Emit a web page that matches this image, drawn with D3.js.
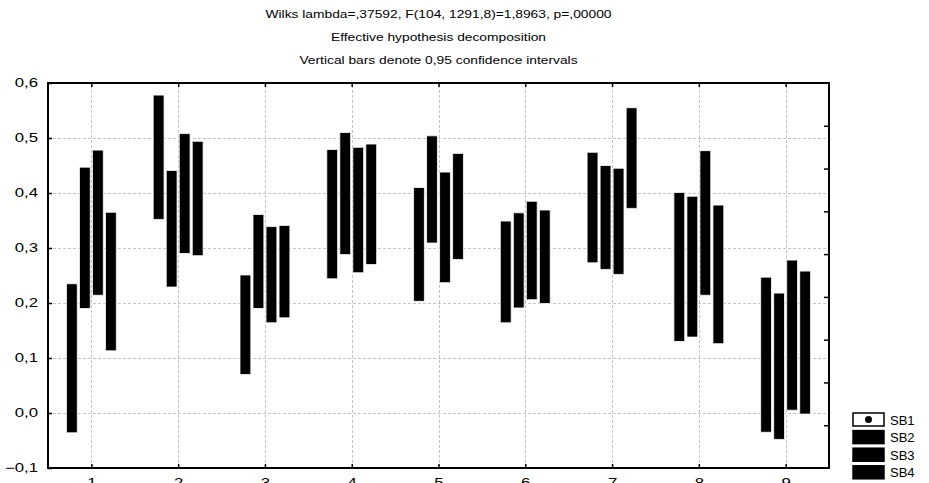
<!DOCTYPE html>
<html>
<head>
<meta charset="utf-8">
<script src="https://cdn.jsdelivr.net/npm/d3@7"></script>
<style>
  body { margin: 0; background: #fff; }
  svg { display: block; font-family: "Liberation Sans", Arial, sans-serif; }
</style>
</head>
<body>
<svg id="chart" width="929" height="483"></svg>
<script>
(function () {
  "use strict";

  var titles = [
    "Wilks lambda=,37592, F(104, 1291,8)=1,8963, p=,00000",
    "Effective hypothesis decomposition",
    "Vertical bars denote 0,95 confidence intervals"
  ];
  var categories = [1, 2, 3, 4, 5, 6, 7, 8, 9];
  var seriesNames = ["SB1", "SB2", "SB3", "SB4"];
  var yTicks = [-0.1, 0, 0.1, 0.2, 0.3, 0.4, 0.5, 0.6];

  // lower / upper confidence limits, one value per category
  var sb1Low  = [-0.036, 0.352, 0.070, 0.244, 0.203, 0.164, 0.273, 0.130, -0.035];
  var sb1High = [0.235, 0.578, 0.251, 0.479, 0.410, 0.349, 0.474, 0.401, 0.247];
  var sb2Low  = [0.190, 0.229, 0.190, 0.288, 0.309, 0.191, 0.261, 0.138, -0.048];
  var sb2High = [0.447, 0.441, 0.361, 0.510, 0.504, 0.364, 0.450, 0.394, 0.218];
  var sb3Low  = [0.214, 0.290, 0.164, 0.255, 0.237, 0.206, 0.252, 0.214, 0.005];
  var sb3High = [0.478, 0.508, 0.339, 0.483, 0.438, 0.385, 0.445, 0.477, 0.278];
  var sb4Low  = [0.113, 0.286, 0.173, 0.270, 0.279, 0.199, 0.372, 0.126, -0.002];
  var sb4High = [0.365, 0.494, 0.341, 0.489, 0.472, 0.369, 0.555, 0.378, 0.258];

  var lows = [sb1Low, sb2Low, sb3Low, sb4Low];
  var highs = [sb1High, sb2High, sb3High, sb4High];
  var offsets = [-0.225, -0.075, 0.075, 0.225];

  var margin = { left: 48, right: 100, top: 83, bottom: 15 };
  var width = 929, height = 483;
  var stretch = 1.4; // the original text is drawn wide
  var svg = d3.select("#chart");

  var x = d3.scaleLinear().domain([0.5, 9.5]).range([margin.left, width - margin.right]);
  var y = d3.scaleLinear().domain([-0.1, 0.6]).range([height - margin.bottom, margin.top]);
  var yRight = d3.scaleLinear().domain([0, 9]).range([height - margin.bottom, margin.top]);
  var fmt = function (d) { return d3.format(".1f")(d).replace(".", ","); };

  // titles
  var cx = (x.range()[0] + x.range()[1]) / 2;
  svg.selectAll("text.title")
    .data(titles)
    .join("text")
    .attr("class", "title")
    .attr("transform", function (d, i) { return "translate(" + cx + "," + (18 + i * 23) + ") scale(1.2,1)"; })
    .attr("text-anchor", "middle")
    .attr("font-size", 11.5)
    .text(function (d) { return d; });

  // grid
  var grid = svg.append("g").attr("stroke", "#c4c4c4").attr("stroke-dasharray", "3,2").attr("stroke-width", 1);
  grid.selectAll("line.gy")
    .data(yTicks.slice(1, -1))
    .join("line")
    .attr("x1", x.range()[0]).attr("x2", x.range()[1])
    .attr("y1", function (d) { return Math.round(y(d)) + 0.5; })
    .attr("y2", function (d) { return Math.round(y(d)) + 0.5; });
  grid.selectAll("line.gx")
    .data(categories)
    .join("line")
    .attr("y1", y.range()[0]).attr("y2", y.range()[1])
    .attr("x1", function (d) { return Math.round(x(d)) + 0.5; })
    .attr("x2", function (d) { return Math.round(x(d)) + 0.5; });

  // bars
  var bw = x(0.125) - x(0);
  seriesNames.forEach(function (name, s) {
    svg.append("g")
      .selectAll("rect")
      .data(categories)
      .join("rect")
      .attr("x", function (d) { return x(d + offsets[s]) - bw / 2; })
      .attr("width", bw)
      .attr("y", function (d, i) { return y(highs[s][i]); })
      .attr("height", function (d, i) { return y(lows[s][i]) - y(highs[s][i]); })
      .attr("rx", 1)
      .attr("fill", "#000")
      .attr("stroke", "#fff")
      .attr("stroke-width", 0.8);
  });

  // axes (ticks inward)
  var axisStyle = function (g) {
    g.select(".domain").remove();
    g.selectAll(".tick line").attr("stroke", "#000").attr("stroke-width", 1.5);
    g.selectAll(".tick text").attr("font-size", 12).attr("fill", "#000");
  };
  svg.append("g")
    .attr("transform", "translate(" + x.range()[0] + ",0)")
    .call(d3.axisLeft(y).tickValues(yTicks).tickFormat(fmt).tickSizeInner(-4).tickSizeOuter(0))
    .call(axisStyle)
    .call(function (g) {
      g.selectAll(".tick text").attr("x", 0).attr("transform", "translate(-10,0) scale(" + stretch + ",1)");
    });
  svg.append("g")
    .attr("transform", "translate(0," + y.range()[0] + ")")
    .call(d3.axisBottom(x).tickValues(categories).tickFormat(d3.format("d")).tickSizeInner(-4).tickSizeOuter(0).tickPadding(10))
    .call(axisStyle)
    .call(function (g) {
      g.selectAll(".tick text").attr("transform", "scale(" + stretch + ",1)");
    });
  svg.append("g")
    .attr("transform", "translate(0," + y.range()[1] + ")")
    .call(d3.axisTop(x).tickValues(categories).tickFormat("").tickSizeInner(-4).tickSizeOuter(0))
    .call(axisStyle);
  svg.append("g")
    .attr("transform", "translate(" + x.range()[1] + ",0)")
    .call(d3.axisRight(yRight).tickValues(d3.range(1, 9)).tickFormat("").tickSizeInner(-5).tickSizeOuter(0))
    .call(axisStyle);

  // frame
  svg.append("rect")
    .attr("x", x.range()[0]).attr("y", y.range()[1])
    .attr("width", x.range()[1] - x.range()[0])
    .attr("height", y.range()[0] - y.range()[1])
    .attr("fill", "none").attr("stroke", "#000").attr("stroke-width", 2);

  // legend
  var legend = svg.append("g").attr("transform", "translate(853,413)");
  var rows = legend.selectAll("g")
    .data(seriesNames)
    .join("g")
    .attr("transform", function (d, i) { return "translate(0," + i * 17.6 + ")"; });
  rows.append("rect")
    .attr("width", 31).attr("height", 13)
    .attr("fill", function (d, i) { return i === 0 ? "#fff" : "#000"; })
    .attr("stroke", "#000").attr("stroke-width", 1.5);
  rows.filter(function (d, i) { return i === 0; })
    .append("circle").attr("cx", 15.5).attr("cy", 6.5).attr("r", 3.5).attr("fill", "#000");
  rows.append("text")
    .attr("x", 37).attr("y", 11.5)
    .attr("font-size", 13)
    .text(function (d) { return d; });
})();
</script>
</body>
</html>
